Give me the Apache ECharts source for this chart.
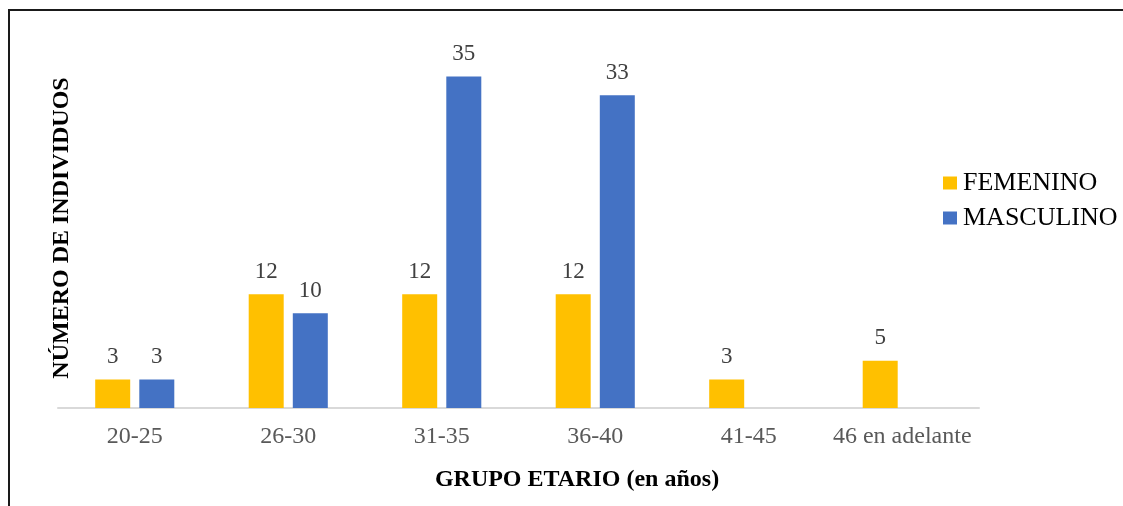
<!DOCTYPE html>
<html>
<head>
<meta charset="utf-8">
<script src="https://cdn.jsdelivr.net/npm/echarts@6/dist/echarts.min.js"></script>
<style>
  html, body { margin: 0; padding: 0; background: #ffffff; }
  #chart { width: 1123px; height: 506px; }
</style>
</head>
<body>
<div id="chart"></div>
<script>
// Age groups and counts per sex
const categories = ['20-25', '26-30', '31-35', '36-40', '41-45', '46 en adelante'];
const femenino = [3, 12, 12, 12, 3, 5];
const masculino = [3, 10, 35, 33, null, null];
const seriesNames = ['FEMENINO', 'MASCULINO'];
const xTitle = 'GRUPO ETARIO (en años)';
const yTitle = 'NÚMERO DE INDIVIDUOS';

const serif = "'Liberation Serif', 'Times New Roman', serif";

const chart = echarts.init(document.getElementById('chart'), null, { renderer: 'canvas' });

const valueLabel = {
  show: true,
  position: 'top',
  distance: 11,
  color: '#404040',
  fontFamily: serif,
  fontSize: 23
};

chart.setOption({
  animation: false,
  backgroundColor: '#ffffff',
  grid: { left: 58, right: 144, top: 29, bottom: 98, containLabel: false },
  legend: {
    data: seriesNames,
    orient: 'vertical',
    left: 943,
    top: 170,
    padding: 0,
    icon: 'rect',
    itemWidth: 14,
    itemHeight: 13,
    itemGap: 9,
    textStyle: { color: '#000000', fontFamily: serif, fontSize: 26, lineHeight: 24, padding: [0, 0, 0, 1] }
  },
  xAxis: {
    type: 'category',
    data: categories,
    axisLine: { lineStyle: { color: '#d9d9d9', width: 2 } },
    axisTick: { show: false },
    axisLabel: { interval: 0, color: '#595959', fontFamily: serif, fontSize: 24, margin: 17 }
  },
  yAxis: {
    type: 'value',
    min: 0,
    max: 40,
    interval: 5,
    show: false,
    splitLine: { show: false }
  },
  series: [
    {
      name: seriesNames[0],
      type: 'bar',
      data: femenino,
      barWidth: 35,
      barGap: '26%',
      itemStyle: { color: '#FFC000' },
      label: valueLabel
    },
    {
      name: seriesNames[1],
      type: 'bar',
      data: masculino,
      barWidth: 35,
      barGap: '26%',
      itemStyle: { color: '#4472C4' },
      label: valueLabel
    }
  ],
  graphic: [
    {
      type: 'polyline',
      shape: { points: [[9, 506], [9, 10], [1123, 10]] },
      style: { stroke: '#1a1a1a', lineWidth: 2, fill: null }
    },
    {
      type: 'text',
      x: 577,
      y: 480,
      style: {
        text: xTitle,
        x: 0,
        y: 0,
        align: 'center',
        verticalAlign: 'middle',
        fill: '#000000',
        font: 'bold 24px ' + serif
      }
    },
    {
      type: 'text',
      x: 62,
      y: 228,
      rotation: Math.PI / 2,
      style: {
        text: yTitle,
        x: 0,
        y: 0,
        align: 'center',
        verticalAlign: 'middle',
        fill: '#000000',
        font: 'bold 24px ' + serif
      }
    }
  ]
});
</script>
</body>
</html>
